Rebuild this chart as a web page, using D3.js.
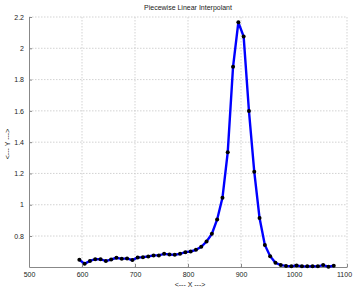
<!DOCTYPE html>
<html>
<head>
<meta charset="utf-8">
<script src="https://cdn.jsdelivr.net/npm/d3@7"></script>
<style>
  body { margin: 0; background: #fff; }
  text { font-family: "Liberation Sans", Arial, sans-serif; fill: #222; }
</style>
</head>
<body>
<div id="chart"></div>
<script>
// sample points (x spaced 10 apart) and their y values
const X_VALUES = [595, 605, 615, 625, 635, 645, 655, 665, 675, 685, 695, 705, 715, 725, 735, 745, 755, 765, 775, 785,
                  795, 805, 815, 825, 835, 845, 855, 865, 875, 885, 895, 905, 915, 925, 935, 945, 955, 965, 975, 985,
                  995, 1005, 1015, 1025, 1035, 1045, 1055, 1065, 1075];
const Y_VALUES = [0.648, 0.622, 0.641, 0.652, 0.652, 0.640, 0.650, 0.661, 0.654, 0.657, 0.646, 0.663, 0.665, 0.669, 0.676, 0.676, 0.686, 0.682, 0.680, 0.686,
                  0.697, 0.701, 0.712, 0.731, 0.765, 0.814, 0.906, 1.044, 1.336, 1.882, 2.166, 2.075, 1.599, 1.211, 0.915, 0.743, 0.671, 0.629, 0.614, 0.609,
                  0.607, 0.611, 0.607, 0.606, 0.607, 0.606, 0.614, 0.604, 0.610];
const X_TICKS = [500, 600, 700, 800, 900, 1000, 1100];
const Y_TICKS = [0.8, 1, 1.2, 1.4, 1.6, 1.8, 2, 2.2];

const FRAME_WIDTH = 355;
const FRAME_HEIGHT = 288;
const MARGINS = {left: 29, right: 8, top: 17, bottom: 21};
const VIS_WIDTH = FRAME_WIDTH - MARGINS.left - MARGINS.right;
const VIS_HEIGHT = FRAME_HEIGHT - MARGINS.top - MARGINS.bottom;

const data = X_VALUES.map((x, i) => ({x: x, y: Y_VALUES[i]}));

const svg = d3.select("#chart")
  .append("svg")
    .attr("width", FRAME_WIDTH)
    .attr("height", FRAME_HEIGHT);

const g = svg.append("g")
  .attr("transform", "translate(" + MARGINS.left + "," + MARGINS.top + ")");

const x = d3.scaleLinear().domain([500, 1100]).range([0, VIS_WIDTH]);
const y = d3.scaleLinear().domain([0.602, 2.2]).range([VIS_HEIGHT, 0]);

// dotted grid
g.append("g").selectAll("line").data(X_TICKS.slice(1)).enter().append("line")
  .attr("x1", d => x(d)).attr("x2", d => x(d))
  .attr("y1", 0).attr("y2", VIS_HEIGHT)
  .attr("stroke", "#c8c8c8").attr("stroke-width", 0.8).attr("stroke-dasharray", "1.5,1.5");
g.append("g").selectAll("line").data(Y_TICKS).enter().append("line")
  .attr("x1", 0).attr("x2", VIS_WIDTH)
  .attr("y1", d => y(d)).attr("y2", d => y(d))
  .attr("stroke", "#c8c8c8").attr("stroke-width", 0.8).attr("stroke-dasharray", "1.5,1.5");

// axes
const xAxis = g.append("g")
  .attr("transform", "translate(0," + VIS_HEIGHT + ")")
  .call(d3.axisBottom(x).tickValues(X_TICKS).tickSize(-3).tickPadding(5).tickSizeOuter(0)
    .tickFormat(d3.format("d")));
const yAxis = g.append("g")
  .call(d3.axisLeft(y).tickValues(Y_TICKS).tickSize(-3).tickPadding(5).tickSizeOuter(0)
    .tickFormat(d3.format("~g")));
[xAxis, yAxis].forEach(a => {
  a.select(".domain").attr("stroke", "#888");
  a.selectAll(".tick line").attr("stroke", "#888");
  a.selectAll("text").attr("font-size", 7).attr("fill", "#222")
    .attr("font-family", "Liberation Sans, Arial, sans-serif");
});
// keep the last x label inside the frame
xAxis.selectAll(".tick text").filter(d => d === 1100).attr("dx", -3);

// the interpolant line
g.append("path")
  .datum(data)
  .attr("fill", "none")
  .attr("stroke", "#0000ff")
  .attr("stroke-width", 2.4)
  .attr("d", d3.line().x(d => x(d.x)).y(d => y(d.y)));

// data points
g.append("g").selectAll("circle").data(data).enter().append("circle")
  .attr("cx", d => x(d.x))
  .attr("cy", d => y(d.y))
  .attr("r", 2)
  .attr("fill", "#000");

// labels
svg.append("text")
  .attr("x", MARGINS.left + VIS_WIDTH / 2).attr("y", 10)
  .attr("text-anchor", "middle").attr("font-size", 7)
  .text("Piecewise Linear Interpolant");
svg.append("text")
  .attr("x", MARGINS.left + VIS_WIDTH / 2 + 2).attr("y", 287)
  .attr("text-anchor", "middle").attr("font-size", 7)
  .text("<--- X --->");
svg.append("text")
  .attr("transform", "translate(10," + (MARGINS.top + VIS_HEIGHT / 2 + 2) + ") rotate(-90)")
  .attr("text-anchor", "middle").attr("font-size", 7)
  .text("<--- Y --->");
</script>
</body>
</html>
